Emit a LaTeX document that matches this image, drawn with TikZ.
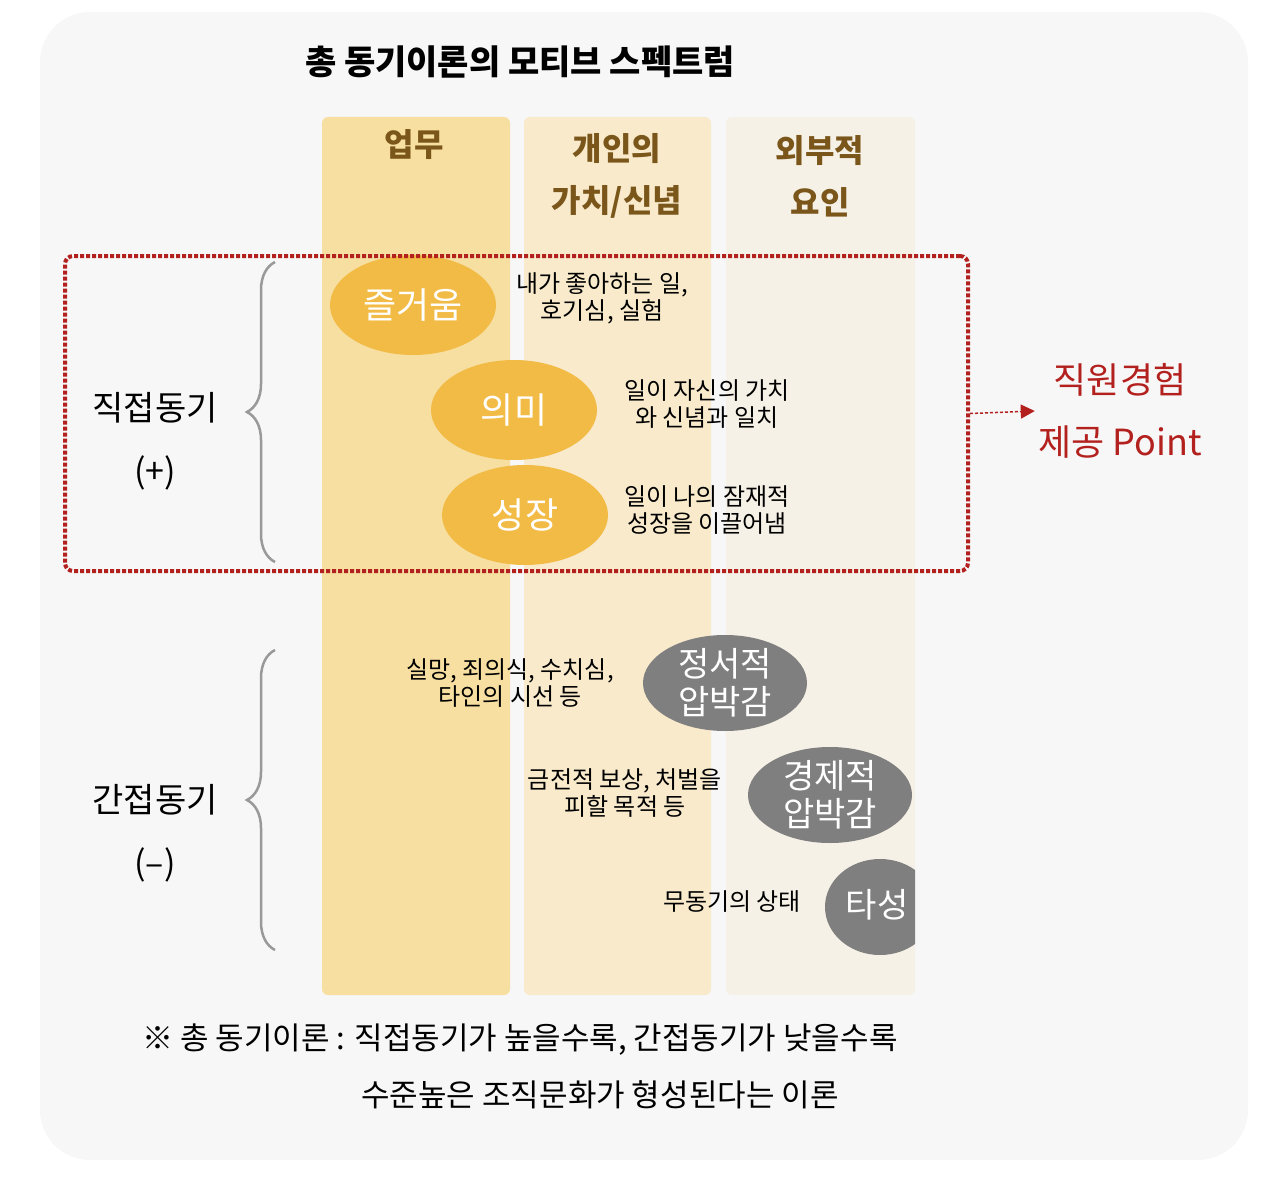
\documentclass[tikz,border=0pt]{standalone}
\usepackage{fontspec}
\setmainfont{Noto Sans CJK KR}
\usetikzlibrary{decorations.pathreplacing,arrows.meta,shapes.geometric}
\definecolor{bg}{HTML}{F7F7F7}
\definecolor{colA}{HTML}{F6DFA1}
\definecolor{colB}{HTML}{F8EACB}
\definecolor{colC}{HTML}{F6F1E6}
\definecolor{hdr}{HTML}{7A561A}
\definecolor{yel}{HTML}{F2BB45}
\definecolor{gry}{HTML}{7F7F7F}
\definecolor{red1}{HTML}{B3211E}
\tikzset{
 hd/.style={text=hdr,font=\fontsize{32}{52}\selectfont\bfseries,align=center},
 sm/.style={font=\fontsize{24}{27}\selectfont,align=center},
 yl/.style={ellipse,fill=yel,text=white,font=\fontsize{36}{38}\selectfont},
 gy/.style={fill=gry},
 gtxt/.style={text=white,font=\fontsize{34}{38}\selectfont,align=center},
 brc/.style={draw=gray!80,line width=2.5pt,decorate,decoration={brace,amplitude=28pt,aspect=0.5}}
}
\begin{document}
\begin{tikzpicture}[x=1pt,y=-1pt]
\useasboundingbox (0,0) rectangle (1280,1180);
\fill[bg,rounded corners=50pt] (40,12) rectangle (1248,1160);
\node[font=\fontsize{34}{40}\selectfont\bfseries] (title) at (520,62) {총 동기이론의 모티브 스펙트럼};
\fill[colA,rounded corners=6pt] (322,117) rectangle (510,995);
\fill[colB,rounded corners=6pt] (524,117) rectangle (711,995);
\fill[colC,rounded corners=6pt] (726,117) rectangle (915,995);
\node[hd] (h1) at (414,145) {업무};
\node[hd] (h2) at (617,176) {개인의\\가치/신념};
\node[hd] (h3) at (820,176) {외부적\\요인};
\node[yl,minimum width=166pt,minimum height=100pt] (e1) at (413,305) {즐거움};
\node[yl,minimum width=166pt,minimum height=100pt] (e2) at (514,410) {의미};
\node[yl,minimum width=166pt,minimum height=100pt] (e3) at (525,515) {성장};
\node[sm] (t1) at (602,298) {내가 좋아하는 일,\\호기심, 실험};
\node[sm] (t2) at (707,404) {일이 자신의 가치\\와 신념과 일치};
\node[sm] (t3) at (707,510) {일이 나의 잠재적\\성장을 이끌어냄};
\fill[gy] (725,683) ellipse[x radius=82,y radius=48];
\node[gtxt] (g1) at (725,683) {정서적\\압박감};
\fill[gy] (830,795) ellipse[x radius=82,y radius=48];
\node[gtxt] (g2) at (830,795) {경제적\\압박감};
\begin{scope}
\clip (700,850) rectangle (915,1000);
\fill[gy] (880,907) ellipse[x radius=55,y radius=48];
\end{scope}
\node[gtxt] (g3) at (877,905) {타성};
\node[sm] (s1) at (510,683) {실망, 죄의식, 수치심,\\타인의 시선 등};
\node[sm] (s2) at (625,793) {금전적 보상, 처벌을\\피할 목적 등};
\node[sm] (s3) at (732,902) {무동기의 상태};
\node[draw=red1,dotted,line width=4pt,rounded corners=8pt,minimum width=903pt,minimum height=315pt] (box) at (516.5,413.5) {};
\node[text=red1,align=center,font=\fontsize{36}{62}\selectfont] (pt) at (1120,411) {직원경험\\제공 Point};
\draw[red1,densely dashed,line width=1.5pt,-{Triangle[length=14pt,width=14pt]}] (box.east) -- (pt.west);
\draw[brc] (275,562) -- (275,262);
\draw[brc] (275,950) -- (275,650);
\node[align=center,font=\fontsize{34}{63}\selectfont] (d1) at (155,441) {직접동기\\(+)};
\node[align=center,font=\fontsize{34}{63}\selectfont] (d2) at (155,833) {간접동기\\(–)};
\node[font=\fontsize{31}{36}\selectfont] (f1) at (520,1040) {※ 총 동기이론 : 직접동기가 높을수록, 간접동기가 낮을수록};
\node[font=\fontsize{31}{36}\selectfont] (f2) at (600,1095) {수준높은 조직문화가 형성된다는 이론};
\end{tikzpicture}
\end{document}
